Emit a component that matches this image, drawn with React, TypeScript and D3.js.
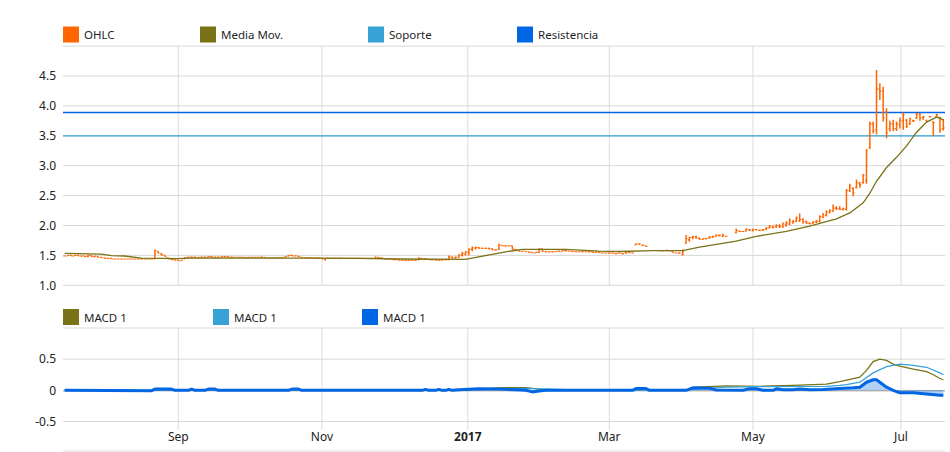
import React from "react";
import * as d3 from "d3";

// ---------------- data ----------------
const firstDay = "2016-07-15";
const lastDay = "2017-07-19";

// one value per trading day (weekdays), week by week
const opens: (number | null)[] = [
  1.49,
  1.49, 1.50, 1.49, 1.50, 1.49,
  1.49, 1.48, 1.50, 1.48, 1.48,
  1.47, 1.46, 1.45, 1.45, 1.44,
  1.44, 1.44, 1.44, 1.44, 1.44,
  1.44, 1.44, 1.44, 1.44, 1.44,
  1.44, 1.44, 1.57, 1.53, 1.50,
  1.46, 1.44, 1.43, 1.42, 1.41,
  1.44, 1.46, 1.47, 1.47, 1.46,
  1.47, 1.47, 1.47, 1.48, 1.47,
  1.47, 1.47, 1.48, 1.48, 1.47,
  1.47, 1.47, 1.47, 1.47, 1.46,
  1.47, 1.47, 1.47, 1.47, 1.47,
  1.46, 1.46, 1.46, 1.46, 1.46,
  1.47, 1.49, 1.50, 1.49, 1.49,
  1.47, 1.46, 1.46, 1.46, 1.45,
  1.46, 1.45, 1.44, 1.45, 1.45,
  1.45, 1.45, 1.45, 1.45, 1.45,
  1.45, 1.45, 1.45, 1.45, 1.45,
  1.45, 1.45, 1.45, 1.47, 1.46,
  1.44, 1.44, 1.44, 1.43, 1.43,
  1.42, 1.42, 1.41, 1.42, 1.42,
  1.43, 1.45, 1.44, 1.44, 1.43,
  1.43, 1.42, 1.42, 1.43, 1.43,
  1.47, 1.46, 1.47, 1.50, 1.52,
  1.55, 1.60, 1.62, 1.63, 1.62,
  1.62, 1.62, 1.61, 1.59, 1.60,
  1.67, 1.66, 1.66, 1.66, 1.60,
  1.58, 1.57, 1.57, 1.56, 1.55,
  1.54, 1.55, 1.61, 1.57, 1.56,
  1.56, 1.56, 1.57, 1.57, 1.58,
  1.57, 1.57, 1.56, 1.56, 1.56,
  1.56, 1.56, 1.56, 1.55, 1.55,
  1.54, 1.54, 1.54, 1.54, 1.53,
  1.54, 1.53, 1.54, 1.55, 1.54,
  1.68, 1.69, 1.67, 1.66, null,
  null, null, 1.58, 1.58, 1.58,
  1.58, 1.56, 1.54, 1.54, 1.51,
  1.70, 1.76, 1.80, 1.81, 1.79,
  1.77, 1.78, 1.79, 1.80, 1.82,
  1.83, 1.82, 1.82, null, null,
  1.88, 1.91, 1.90, 1.91, 1.93,
  1.92, 1.93, 1.92, 1.92, 1.94,
  1.96, 1.97, 1.98, 1.99, 1.98,
  2.01, 2.02, 2.05, 2.07, 2.08,
  2.10, 2.07, 2.04, 2.04, 2.06,
  2.07, 2.14, 2.17, 2.22, 2.24,
  2.29, 2.28, 2.27, 2.27, 2.58,
  2.62, 2.64, 2.70, 2.72, 2.75,
  3.30, 3.70, 3.60, 4.28, 4.25,
  3.90, 3.62, 3.70, 3.62, 3.68,
  3.75, 3.76, 3.70, 3.75, 3.80,
  3.86, 3.80, 3.76, 3.82, 3.73,
  3.82, 3.80, 3.62,
];

const highs: (number | null)[] = [
  1.49,
  1.50, 1.50, 1.50, 1.51, 1.49,
  1.49, 1.51, 1.50, 1.49, 1.48,
  1.47, 1.46, 1.45, 1.45, 1.44,
  1.44, 1.44, 1.44, 1.44, 1.44,
  1.44, 1.44, 1.45, 1.44, 1.44,
  1.44, 1.60, 1.57, 1.53, 1.50,
  1.46, 1.44, 1.43, 1.42, 1.42,
  1.47, 1.48, 1.48, 1.48, 1.47,
  1.48, 1.48, 1.48, 1.49, 1.48,
  1.48, 1.48, 1.49, 1.48, 1.48,
  1.47, 1.47, 1.47, 1.47, 1.47,
  1.47, 1.47, 1.47, 1.48, 1.47,
  1.46, 1.46, 1.46, 1.47, 1.46,
  1.48, 1.50, 1.51, 1.50, 1.49,
  1.47, 1.46, 1.46, 1.46, 1.46,
  1.46, 1.45, 1.45, 1.45, 1.45,
  1.45, 1.46, 1.45, 1.45, 1.45,
  1.45, 1.45, 1.45, 1.45, 1.45,
  1.45, 1.45, 1.48, 1.47, 1.46,
  1.44, 1.44, 1.44, 1.43, 1.43,
  1.42, 1.42, 1.42, 1.42, 1.43,
  1.47, 1.45, 1.45, 1.44, 1.44,
  1.43, 1.43, 1.43, 1.43, 1.50,
  1.48, 1.48, 1.52, 1.56, 1.57,
  1.62, 1.65, 1.65, 1.64, 1.63,
  1.63, 1.63, 1.62, 1.60, 1.70,
  1.67, 1.66, 1.66, 1.66, 1.60,
  1.58, 1.57, 1.57, 1.56, 1.55,
  1.55, 1.62, 1.61, 1.57, 1.56,
  1.56, 1.57, 1.58, 1.58, 1.59,
  1.57, 1.57, 1.57, 1.56, 1.57,
  1.56, 1.56, 1.56, 1.56, 1.55,
  1.54, 1.54, 1.55, 1.54, 1.54,
  1.54, 1.53, 1.56, 1.55, 1.54,
  1.70, 1.70, 1.68, 1.66, null,
  null, null, 1.59, 1.58, 1.59,
  1.58, 1.56, 1.54, 1.55, 1.60,
  1.84, 1.81, 1.83, 1.83, 1.80,
  1.78, 1.78, 1.82, 1.83, 1.85,
  1.85, 1.86, 1.82, null, null,
  1.95, 1.91, 1.91, 1.95, 1.94,
  1.95, 1.94, 1.93, 1.94, 1.97,
  2.01, 2.00, 2.02, 2.02, 2.05,
  2.07, 2.12, 2.09, 2.15, 2.20,
  2.12, 2.08, 2.05, 2.07, 2.09,
  2.17, 2.21, 2.25, 2.27, 2.35,
  2.32, 2.32, 2.30, 2.61, 2.70,
  2.64, 2.77, 2.73, 2.86, 3.28,
  3.74, 3.74, 4.60, 4.38, 4.32,
  3.96, 3.75, 3.77, 3.74, 3.80,
  3.89, 3.78, 3.80, 3.77, 3.88,
  3.88, 3.83, 3.77, 3.83, 3.74,
  3.87, 3.82, 3.78,
];

const lows: (number | null)[] = [
  1.49,
  1.49, 1.49, 1.49, 1.49, 1.48,
  1.48, 1.47, 1.48, 1.47, 1.47,
  1.46, 1.45, 1.45, 1.44, 1.44,
  1.44, 1.44, 1.44, 1.44, 1.44,
  1.44, 1.44, 1.44, 1.44, 1.44,
  1.44, 1.44, 1.53, 1.50, 1.48,
  1.44, 1.43, 1.42, 1.41, 1.41,
  1.44, 1.46, 1.46, 1.46, 1.46,
  1.47, 1.46, 1.47, 1.47, 1.47,
  1.47, 1.47, 1.47, 1.47, 1.47,
  1.47, 1.47, 1.46, 1.46, 1.46,
  1.47, 1.46, 1.47, 1.46, 1.46,
  1.46, 1.46, 1.46, 1.46, 1.46,
  1.47, 1.48, 1.49, 1.49, 1.48,
  1.46, 1.46, 1.46, 1.45, 1.45,
  1.45, 1.44, 1.41, 1.44, 1.44,
  1.45, 1.45, 1.45, 1.45, 1.45,
  1.45, 1.45, 1.45, 1.45, 1.45,
  1.45, 1.45, 1.45, 1.46, 1.45,
  1.44, 1.44, 1.43, 1.43, 1.42,
  1.42, 1.41, 1.41, 1.42, 1.42,
  1.42, 1.44, 1.43, 1.43, 1.42,
  1.42, 1.42, 1.42, 1.42, 1.42,
  1.45, 1.45, 1.46, 1.48, 1.50,
  1.50, 1.57, 1.60, 1.61, 1.61,
  1.61, 1.60, 1.59, 1.58, 1.59,
  1.66, 1.66, 1.66, 1.60, 1.58,
  1.57, 1.56, 1.56, 1.55, 1.54,
  1.54, 1.54, 1.56, 1.55, 1.55,
  1.55, 1.56, 1.56, 1.57, 1.57,
  1.57, 1.56, 1.56, 1.56, 1.56,
  1.56, 1.55, 1.55, 1.55, 1.55,
  1.54, 1.54, 1.53, 1.53, 1.53,
  1.53, 1.53, 1.53, 1.54, 1.54,
  1.67, 1.68, 1.66, 1.65, null,
  null, null, 1.58, 1.57, 1.58,
  1.57, 1.55, 1.54, 1.53, 1.50,
  1.70, 1.73, 1.77, 1.78, 1.76,
  1.76, 1.77, 1.78, 1.79, 1.81,
  1.82, 1.81, 1.81, null, null,
  1.87, 1.89, 1.89, 1.90, 1.91,
  1.90, 1.92, 1.91, 1.91, 1.93,
  1.95, 1.95, 1.96, 1.96, 1.96,
  1.98, 2.01, 2.03, 2.06, 2.06,
  2.03, 2.03, 2.02, 2.03, 2.04,
  2.05, 2.12, 2.15, 2.20, 2.23,
  2.26, 2.26, 2.25, 2.25, 2.56,
  2.49, 2.62, 2.63, 2.70, 2.70,
  3.28, 3.54, 3.52, 4.10, 3.74,
  3.46, 3.57, 3.58, 3.58, 3.62,
  3.60, 3.63, 3.68, 3.73, 3.78,
  3.75, 3.77, 3.73, 3.81, 3.50,
  3.80, 3.55, 3.59,
];

const closes: (number | null)[] = [
  1.49,
  1.50, 1.49, 1.50, 1.49, 1.49,
  1.48, 1.50, 1.48, 1.49, 1.47,
  1.46, 1.45, 1.45, 1.44, 1.44,
  1.44, 1.44, 1.44, 1.44, 1.44,
  1.44, 1.44, 1.44, 1.44, 1.44,
  1.44, 1.58, 1.54, 1.51, 1.48,
  1.44, 1.43, 1.42, 1.41, 1.42,
  1.46, 1.47, 1.47, 1.46, 1.47,
  1.47, 1.47, 1.48, 1.47, 1.47,
  1.47, 1.48, 1.48, 1.47, 1.47,
  1.47, 1.47, 1.47, 1.46, 1.47,
  1.47, 1.47, 1.47, 1.47, 1.46,
  1.46, 1.46, 1.46, 1.46, 1.46,
  1.48, 1.50, 1.49, 1.49, 1.48,
  1.46, 1.46, 1.46, 1.45, 1.46,
  1.45, 1.44, 1.45, 1.45, 1.45,
  1.45, 1.45, 1.45, 1.45, 1.45,
  1.45, 1.45, 1.45, 1.45, 1.45,
  1.45, 1.45, 1.47, 1.46, 1.45,
  1.44, 1.44, 1.43, 1.43, 1.42,
  1.42, 1.41, 1.42, 1.42, 1.42,
  1.45, 1.44, 1.44, 1.43, 1.43,
  1.42, 1.42, 1.43, 1.43, 1.48,
  1.46, 1.47, 1.51, 1.53, 1.56,
  1.60, 1.63, 1.63, 1.62, 1.62,
  1.62, 1.61, 1.59, 1.59, 1.67,
  1.66, 1.66, 1.66, 1.60, 1.59,
  1.57, 1.57, 1.56, 1.55, 1.54,
  1.55, 1.61, 1.57, 1.56, 1.56,
  1.56, 1.57, 1.57, 1.58, 1.58,
  1.57, 1.56, 1.56, 1.56, 1.56,
  1.56, 1.56, 1.55, 1.56, 1.55,
  1.54, 1.54, 1.54, 1.54, 1.53,
  1.54, 1.53, 1.54, 1.55, 1.54,
  1.69, 1.69, 1.67, 1.65, null,
  null, null, 1.58, 1.58, 1.59,
  1.58, 1.55, 1.54, 1.54, 1.57,
  1.78, 1.80, 1.81, 1.79, 1.77,
  1.78, 1.78, 1.81, 1.82, 1.84,
  1.84, 1.83, 1.82, null, null,
  1.92, 1.90, 1.90, 1.94, 1.92,
  1.93, 1.93, 1.92, 1.93, 1.96,
  1.99, 1.97, 2.00, 1.99, 2.03,
  2.04, 2.08, 2.06, 2.12, 2.10,
  2.06, 2.04, 2.03, 2.06, 2.07,
  2.15, 2.18, 2.23, 2.25, 2.29,
  2.28, 2.27, 2.28, 2.58, 2.66,
  2.55, 2.72, 2.68, 2.84, 3.25,
  3.70, 3.58, 4.28, 4.25, 3.80,
  3.55, 3.70, 3.62, 3.70, 3.76,
  3.85, 3.66, 3.78, 3.75, 3.86,
  3.80, 3.82, 3.74, 3.82, 3.72,
  3.85, 3.60, 3.63,
];

const maDates = [
  "2016-07-15", "2016-07-21", "2016-08-01", "2016-08-04", "2016-08-10", "2016-08-17",
  "2016-09-01", "2016-09-06", "2016-10-31", "2016-11-16", "2016-12-02", "2016-12-30",
  "2017-01-17", "2017-01-24", "2017-02-10", "2017-02-24", "2017-03-06", "2017-03-20",
  "2017-03-31", "2017-04-07", "2017-04-24", "2017-05-02", "2017-05-15", "2017-05-24",
  "2017-06-05", "2017-06-09", "2017-06-15", "2017-06-19", "2017-06-21", "2017-06-26",
  "2017-06-29", "2017-07-04", "2017-07-07", "2017-07-12", "2017-07-17", "2017-07-18",
  "2017-07-19",
];
const maValues = [
  1.535, 1.53, 1.52, 1.495, 1.49, 1.455,
  1.445, 1.455, 1.455, 1.45, 1.44, 1.435,
  1.56, 1.60, 1.60, 1.57, 1.565, 1.58,
  1.58, 1.64, 1.74, 1.82, 1.90, 1.99,
  2.11, 2.21, 2.38, 2.54, 2.74, 2.97,
  3.14, 3.33, 3.56, 3.73, 3.81, 3.80,
  3.76,
];

const soporteLevel = 3.5;
const resistenciaLevel = 3.89;

const macdDates = [
  "2016-07-15", "2016-07-29", "2016-08-03", "2016-08-22", "2016-08-24", "2016-08-30",
  "2016-09-02", "2016-12-28", "2017-01-05", "2017-01-13", "2017-01-25", "2017-01-27",
  "2017-02-01", "2017-02-07", "2017-03-10", "2017-03-13", "2017-03-16", "2017-03-21",
  "2017-04-04", "2017-04-06", "2017-04-19", "2017-05-03", "2017-05-17", "2017-05-31",
  "2017-06-06", "2017-06-14", "2017-06-16", "2017-06-20", "2017-06-22", "2017-06-26",
  "2017-06-28", "2017-06-30", "2017-07-06", "2017-07-12", "2017-07-14", "2017-07-18",
  "2017-07-19",
];
const macdValues = [
  0, 0, -0.01, -0.01, 0.02, 0.015,
  0, 0, 0.02, 0.04, 0.045, 0.03,
  0.01, 0, 0, 0.03, 0.02, 0,
  0.01, 0.05, 0.07, 0.065, 0.08, 0.10,
  0.14, 0.21, 0.32, 0.46, 0.50, 0.48,
  0.42, 0.39, 0.34, 0.30, 0.25, 0.19,
  0.17,
];

const signalDates = [
  "2016-07-15", "2016-12-28", "2017-01-05", "2017-01-16", "2017-01-25", "2017-02-01",
  "2017-02-10", "2017-02-20", "2017-03-14", "2017-03-20", "2017-04-04", "2017-04-11",
  "2017-04-19", "2017-05-03", "2017-05-31", "2017-06-06", "2017-06-08", "2017-06-14",
  "2017-06-20", "2017-06-26", "2017-06-30", "2017-07-06", "2017-07-12", "2017-07-18",
  "2017-07-19",
];
const signalValues = [
  0, 0, 0.01, 0.025, 0.03, 0.025,
  0.01, 0, 0, 0.01, 0.01, 0.03,
  0.05, 0.06, 0.065, 0.08, 0.09, 0.13,
  0.28, 0.38, 0.42, 0.40, 0.37, 0.28,
  0.25,
];

const histDates = [
  "2016-07-15", "2016-08-22", "2016-08-23", "2016-08-30", "2016-08-31", "2016-09-06",
  "2016-09-07", "2016-09-08", "2016-09-13", "2016-09-14", "2016-09-16", "2016-09-19",
  "2016-10-18", "2016-10-19", "2016-10-21", "2016-10-24", "2016-12-13", "2016-12-14",
  "2016-12-15", "2016-12-19", "2016-12-20", "2016-12-21", "2016-12-22", "2016-12-23",
  "2016-12-26", "2016-12-28", "2017-01-05", "2017-01-13", "2017-01-20", "2017-01-25",
  "2017-01-27", "2017-01-31", "2017-02-02", "2017-03-10", "2017-03-13", "2017-03-16",
  "2017-03-17", "2017-04-03", "2017-04-05", "2017-04-12", "2017-04-14", "2017-04-26",
  "2017-04-28", "2017-05-02", "2017-05-04", "2017-05-09", "2017-05-10", "2017-05-12",
  "2017-05-17", "2017-05-19", "2017-05-24", "2017-05-30", "2017-06-06", "2017-06-12",
  "2017-06-14", "2017-06-16", "2017-06-20", "2017-06-21", "2017-06-22", "2017-06-26",
  "2017-06-28", "2017-06-30", "2017-07-06", "2017-07-12", "2017-07-18", "2017-07-19",
];
const histValues = [
  0, -0.005, 0.02, 0.02, 0, 0,
  0.02, 0, 0, 0.02, 0.02, 0,
  0, 0.02, 0.02, 0, 0, 0.015,
  0, 0, 0.015, 0, 0, 0.015,
  0, 0.01, 0.025, 0.02, 0.01, 0,
  -0.025, -0.01, 0, 0, 0.03, 0.03,
  0, 0, 0.04, 0.035, 0.005, 0,
  0.025, 0.025, 0, 0, 0.025, 0.01,
  0.01, 0.02, 0.01, 0.015, 0.03, 0.04,
  0.05, 0.13, 0.17, 0.17, 0.13, 0.05,
  0, -0.04, -0.04, -0.06, -0.08, -0.08,
];

const priceTicks = [1, 1.5, 2, 2.5, 3, 3.5, 4, 4.5, 5];
const priceTickLabels = ["1.0", "1.5", "2.0", "2.5", "3.0", "3.5", "4.0", "4.5", ""];
const macdTicks = [-0.5, 0, 0.5, 1];
const macdTickLabels = ["-0.5", "0", "0.5", ""];
const timeTickDates = ["2016-09-01", "2016-11-01", "2017-01-01", "2017-03-01", "2017-05-01", "2017-07-01"];
const timeTickLabels = ["Sep", "Nov", "2017", "Mar", "May", "Jul"];
const timeTickBold = [false, false, true, false, false, false];

const legendTopNames = ["OHLC", "Media Mov.", "Soporte", "Resistencia"];
const legendBottomNames = ["MACD 1", "MACD 1", "MACD 1"];

// ---------------- styling / layout ----------------
const C_OHLC = "#ff6600";
const C_MA = "#7a7216";
const C_SOP = "#36a2d6";
const C_RES = "#0066e3";
const FONT = "'Noto Sans', 'DejaVu Sans', sans-serif";

const parse = d3.timeParse("%Y-%m-%d");
const tradingDays: Date[] = d3.timeDay
  .range(parse(firstDay) as Date, d3.timeDay.offset(parse(lastDay) as Date, 1))
  .filter((d) => d.getDay() !== 0 && d.getDay() !== 6);
const dayBisect = d3.bisector((d: Date) => d).left;
const dayIndex = (s: string) => dayBisect(tradingDays, parse(s) as Date);
// ordinal position of any calendar date (weekend dates fall between trading days)
const datePos = (s: string) => {
  const dt = parse(s) as Date;
  const i = dayBisect(tradingDays, dt);
  if (i <= 0 || i >= tradingDays.length || +tradingDays[i] === +dt) return i;
  const a = +tradingDays[i - 1], b = +tradingDays[i];
  return i - 1 + (+dt - a) / (b - a);
};

export default function App() {
  const left = 63;
  const right = 945;
  const x = d3.scaleLinear().domain([-0.5, tradingDays.length - 0.5]).range([left, right]);
  const yP = d3.scaleLinear().domain([1, 5]).range([285.3, 46.1]);
  const yM = d3.scaleLinear().domain([-0.5, 1]).range([421.5, 328]);

  // OHLC paths
  let vPath = "";
  let tPath = "";
  const half = 1.4;
  opens.forEach((o, i) => {
    const h = highs[i], l = lows[i], c = closes[i];
    if (o == null || h == null || l == null || c == null) return;
    const cx = x(i);
    if (h !== l) vPath += `M${cx},${yP(h)}V${yP(l)}`;
    tPath += `M${cx - half},${yP(o)}H${cx}M${cx},${yP(c)}H${cx + half}`;
  });

  const lineP = d3.line<[number, number]>().x((d) => x(d[0])).y((d) => yP(d[1]));
  const lineM = d3.line<[number, number]>().x((d) => x(d[0])).y((d) => yM(d[1]));
  const areaM = d3
    .area<[number, number]>()
    .x((d) => x(d[0]))
    .y0(yM(0))
    .y1((d) => yM(d[1]));

  const maPts = maDates.map((d, i) => [dayIndex(d), maValues[i]] as [number, number]);
  const macdPts = macdDates.map((d, i) => [dayIndex(d), macdValues[i]] as [number, number]);
  const sigPts = signalDates.map((d, i) => [dayIndex(d), signalValues[i]] as [number, number]);
  const histPts = histDates.map((d, i) => [dayIndex(d), histValues[i]] as [number, number]);

  const timeTicks = timeTickDates.map((d, i) => ({
    x: x(datePos(d)),
    label: timeTickLabels[i],
    bold: timeTickBold[i],
  }));

  const topColors = [C_OHLC, C_MA, C_SOP, C_RES];
  const topLegendX = [63, 200, 368, 517];
  const botColors = [C_MA, C_SOP, C_RES];
  const botLegendX = [63, 213, 362];

  return (
    <svg
      width={950}
      height={452}
      style={{ position: "absolute", left: 0, top: 0, fontFamily: FONT }}
    >
      <rect x={0} y={0} width={950} height={452} fill="#fff" />

      {/* top legend */}
      {legendTopNames.map((n, i) => (
        <g key={"lt" + i}>
          <rect x={topLegendX[i]} y={26.5} width={16} height={16} fill={topColors[i]} />
          <text x={topLegendX[i] + 21} y={39.3} fontSize={11.5} fill="#1f1f1f">
            {n}
          </text>
        </g>
      ))}

      {/* top grid */}
      {timeTicks.map((t, i) => (
        <line key={"vg1" + i} x1={t.x} x2={t.x} y1={yP(5)} y2={yP(1)} stroke="#dcdcdc" />
      ))}
      {priceTicks.map((v, i) => (
        <g key={"hg1" + i}>
          <line x1={left} x2={right} y1={yP(v)} y2={yP(v)} stroke="#d8d8d8" />
          <text x={56} y={yP(v) + 4.3} fontSize={12} textAnchor="end" fill="#222">
            {priceTickLabels[i]}
          </text>
        </g>
      ))}

      {/* support / resistance */}
      <line x1={left} x2={right} y1={yP(soporteLevel)} y2={yP(soporteLevel)} stroke={C_SOP} strokeWidth={1.3} />
      <line x1={left} x2={right} y1={yP(resistenciaLevel)} y2={yP(resistenciaLevel)} stroke={C_RES} strokeWidth={1.3} />

      {/* OHLC */}
      <path d={vPath} stroke={C_OHLC} strokeWidth={1.5} fill="none" />
      <path d={tPath} stroke={C_OHLC} strokeWidth={1.1} fill="none" />

      {/* moving average */}
      <path d={lineP(maPts) || ""} stroke={C_MA} strokeWidth={1.3} fill="none" />

      {/* bottom legend */}
      {legendBottomNames.map((n, i) => (
        <g key={"lb" + i}>
          <rect x={botLegendX[i]} y={309} width={16} height={16} fill={botColors[i]} />
          <text x={botLegendX[i] + 21} y={321.8} fontSize={11.5} fill="#1f1f1f">
            {n}
          </text>
        </g>
      ))}

      {/* bottom grid */}
      {timeTicks.map((t, i) => (
        <line key={"vg2" + i} x1={t.x} x2={t.x} y1={yM(1)} y2={430} stroke="#dcdcdc" />
      ))}
      {macdTicks.map((v, i) => (
        <g key={"hg2" + i}>
          <line x1={left} x2={right} y1={yM(v)} y2={yM(v)} stroke="#d8d8d8" />
          <text x={56} y={yM(v) + 4.3} fontSize={12} textAnchor="end" fill="#222">
            {macdTickLabels[i]}
          </text>
        </g>
      ))}
      <line x1={left} x2={right} y1={yM(0) + 0.5} y2={yM(0) + 0.5} stroke="#a0a0a0" />

      {/* MACD series */}
      <path d={lineM(macdPts) || ""} stroke={C_MA} strokeWidth={1.3} fill="none" />
      <path d={lineM(sigPts) || ""} stroke={C_SOP} strokeWidth={1.3} fill="none" />
      <path d={areaM(histPts) || ""} fill={C_RES} fillOpacity={0.3} stroke="none" />
      <path d={lineM(histPts) || ""} stroke={C_RES} strokeWidth={3} fill="none" strokeLinejoin="round" />

      {/* x axis labels */}
      {timeTicks.map((t, i) => (
        <text
          key={"xl" + i}
          x={t.x}
          y={441}
          fontSize={12}
          textAnchor="middle"
          fill="#222"
          fontWeight={t.bold ? "bold" : "normal"}
        >
          {t.label}
        </text>
      ))}

      <line x1={left} x2={right} y1={451} y2={451} stroke="#dcdcdc" />
    </svg>
  );
}
